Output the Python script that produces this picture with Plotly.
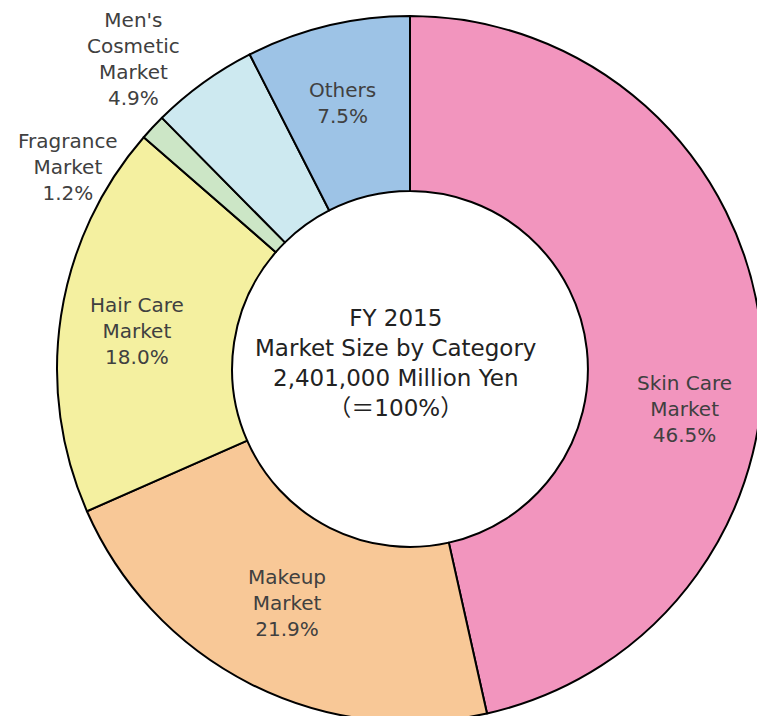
import plotly.graph_objects as go

categories = ["Skin Care Market", "Makeup Market", "Hair Care Market",
              "Fragrance Market", "Men's Cosmetic Market", "Others"]
shares = [46.5, 21.9, 18.0, 1.2, 4.9, 7.5]
label_lines = ["Skin Care<br>Market", "Makeup<br>Market", "Hair Care<br>Market",
               "Fragrance<br>Market", "Men's<br>Cosmetic<br>Market", "Others"]
colors = ["#F295BE", "#F8C897", "#F4F0A0", "#CCE6C6", "#CDE9F0", "#9DC3E6"]
cjk = "<span style=\"font-family:'Noto Sans CJK JP'\">"
center_text = ("FY 2015<br>Market Size by Category<br>2,401,000 Million Yen<br>"
               f"{cjk}（＝</span>100%{cjk}）</span>")

W, H = 765, 716
OFF = 8  # page body margin offset
cx, cy, R = 410 - OFF, 369 - OFF, 353

fig = go.Figure(go.Pie(
    labels=categories,
    values=shares,
    sort=False,
    direction="clockwise",
    rotation=0,
    hole=0.504,
    marker=dict(colors=colors, line=dict(color="#000000", width=2)),
    textinfo="none",
    hoverinfo="label+percent",
    domain=dict(x=[(cx - R) / W, (cx + R) / W], y=[(H - cy - R) / H, (H - cy + R) / H]),
    showlegend=False,
))

# label block centres in the reference picture (pixels)
label_pos = [(684, 409), (287, 603), (137, 331), (68, 167), (133, 59), (342, 103)]

font = dict(family="DejaVu Sans", size=20, color="#404040")
for name, val, (px, py) in zip(label_lines, shares, label_pos):
    fig.add_annotation(
        x=(px - OFF) / W, y=1 - (py - OFF) / H, xref="paper", yref="paper",
        text=f"{name}<br>{val:.1f}%", showarrow=False,
        xanchor="center", yanchor="middle", align="center", font=font,
    )

fig.add_annotation(
    x=(395 - OFF) / W, y=1 - (364 - OFF) / H, xref="paper", yref="paper",
    text=center_text, showarrow=False, xanchor="center", yanchor="middle",
    align="center", font=dict(family="DejaVu Sans", size=23, color="#222222"),
)

fig.update_layout(
    width=W, height=H,
    margin=dict(l=0, r=0, t=0, b=0),
    paper_bgcolor="white", plot_bgcolor="white",
)

fig.write_html("out.html")
